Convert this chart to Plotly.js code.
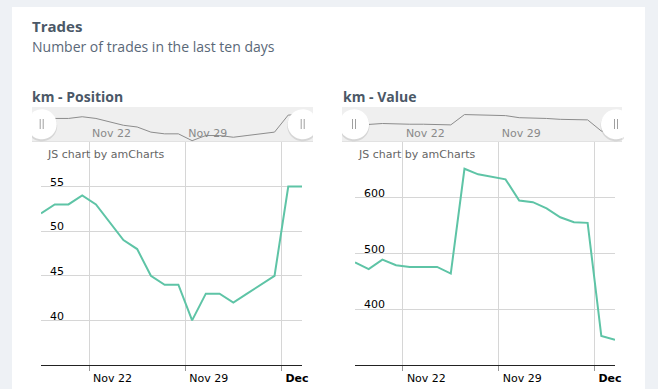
<!DOCTYPE html>
<html>
<head>
<meta charset="utf-8">
<script src="https://cdn.plot.ly/plotly-3.0.1.min.js"></script>
<style>
html,body{margin:0;padding:0;background:#eef1f5;}
#chart{width:658px;height:389px;}
</style>
</head>
<body>
<div id="chart"></div>
<script>
// ---- data ----
const dates = ['2020-11-18 12:00','2020-11-19 12:00','2020-11-20 12:00','2020-11-21 12:00','2020-11-22 12:00',
  '2020-11-23 12:00','2020-11-24 12:00','2020-11-25 12:00','2020-11-26 12:00','2020-11-27 12:00',
  '2020-11-28 12:00','2020-11-29 12:00','2020-11-30 12:00','2020-12-01 12:00','2020-12-02 12:00',
  '2020-12-03 12:00','2020-12-04 12:00','2020-12-05 12:00','2020-12-06 12:00','2020-12-07 12:00'];
const positionValues = [52,53,53,54,53,51,49,48,45,44,44,40,43,43,42,43,44,45,55,55];
const valueValues = [484,472,489,479,476,476,476,464,652,642,638,633,595,592,581,565,556,555,352,345];
const tickDates = ['2020-11-22','2020-11-29','2020-12-06'];
const tickLabels = ['Nov 22','Nov 29','<b>Dec</b>'];
const positionTicks = [40,45,50,55];
const valueTicks = [400,500,600];
const titleText = 'Trades';
const subtitleText = 'Number of trades in the last ten days';
const chartTitles = ['km - Position','km - Value'];
const creditText = 'JS chart by amCharts';

// ---- geometry helpers ----
const W = 658, H = 389;
const px = x => x / W;
const py = y => 1 - y / H;

const lineColor = '#5ec4a6';
const gridColor = '#d6d6d6';
const tickFont = {family:'DejaVu Sans, Verdana, sans-serif', size:11, color:'#000'};

function mainX(domain){
  return {domain:domain, type:'date', range:[dates[0], dates[dates.length-1]],
    tickmode:'array', tickvals:tickDates, ticktext:tickLabels,
    showgrid:true, gridcolor:gridColor, gridwidth:1,
    ticks:'outside', ticklen:5, tickcolor:'#999',
    showline:true, linecolor:'#222', linewidth:1,
    ticklabelposition:'outside right', ticklabelshift:3, ticklabelstandoff:3,
    tickfont:tickFont, zeroline:false, fixedrange:true};
}
function mainY(domain, range, ticks){
  return {domain:domain, range:range, tickmode:'array', tickvals:ticks,
    showgrid:true, gridcolor:gridColor, gridwidth:1, zeroline:false,
    showline:false, ticks:'', ticklabelposition:'inside top', ticklabelstandoff:6, ticklabelshift:3,
    tickfont:tickFont, fixedrange:true};
}
function miniX(domain){
  return {domain:domain, type:'date', range:[dates[0], dates[dates.length-1]],
    tickmode:'array', tickvals:tickDates, ticktext:tickLabels,
    showgrid:false, ticks:'', showline:false, zeroline:false,
    ticklabelposition:'inside right', ticklabelshift:3,
    tickfont:{family:'DejaVu Sans, Verdana, sans-serif', size:11, color:'#8a8a8a'}, fixedrange:true};
}
function miniY(domain, range){
  return {domain:domain, range:range, showgrid:false, zeroline:false, showticklabels:false,
    ticks:'', showline:false, fixedrange:true};
}

const mainYDom = [py(365), py(142)];
const miniYDom = [py(145), py(107)];
const leftXDom = [px(41), px(302)];
const rightXDom = [px(355), px(615)];

const traces = [
  {x:dates, y:positionValues, xaxis:'x', yaxis:'y', type:'scatter', mode:'lines',
   line:{color:lineColor, width:2}, hoverinfo:'skip'},
  {x:dates, y:positionValues, xaxis:'x2', yaxis:'y2', type:'scatter', mode:'lines',
   line:{color:'#8c8c8c', width:1}, hoverinfo:'skip'},
  {x:dates, y:valueValues, xaxis:'x3', yaxis:'y3', type:'scatter', mode:'lines',
   line:{color:lineColor, width:2}, hoverinfo:'skip'},
  {x:dates, y:valueValues, xaxis:'x4', yaxis:'y4', type:'scatter', mode:'lines',
   line:{color:'#8c8c8c', width:1}, hoverinfo:'skip'}
];

function circlePath(cx, cy, r, xmin, xmax){
  let d = '';
  for(let a=0; a<=360; a+=8){
    const t = a*Math.PI/180;
    let x = cx + r*Math.cos(t);
    x = Math.max(xmin, Math.min(xmax, x));
    const y = cy + r*Math.sin(t);
    d += (a===0?'M':'L') + px(x).toFixed(5) + ',' + py(y).toFixed(5) + ' ';
  }
  return d + 'Z';
}
function handle(cx, cy, xmin, xmax){
  return [
    {type:'path', xref:'paper', yref:'paper', layer:'above', path:circlePath(cx, cy+1.5, 15.5, xmin, xmax),
     fillcolor:'rgba(0,0,0,0.10)', line:{width:0}},
    {type:'path', xref:'paper', yref:'paper', layer:'above', path:circlePath(cx, cy, 15, xmin, xmax),
     fillcolor:'#ffffff', line:{width:0}},
    {type:'line', xref:'paper', yref:'paper', layer:'above', x0:px(cx-1.5), x1:px(cx-1.5), y0:py(119), y1:py(129),
     line:{color:'#a0a0a0', width:1}},
    {type:'line', xref:'paper', yref:'paper', layer:'above', x0:px(cx+1.5), x1:px(cx+1.5), y0:py(119), y1:py(129),
     line:{color:'#a0a0a0', width:1}}
  ];
}
function band(x0, x1){
  return [
    {type:'rect', xref:'paper', yref:'paper', layer:'below', x0:px(x0), x1:px(x1), y0:py(142), y1:py(107),
     fillcolor:'#e2e2e2', line:{width:0}},
    {type:'rect', xref:'paper', yref:'paper', layer:'below', x0:px(x0), x1:px(x1), y0:py(141), y1:py(107),
     fillcolor:'#efefef', line:{width:0}}
  ];
}

const shapes = [
  {type:'rect', xref:'paper', yref:'paper', layer:'below', x0:px(12), x1:px(645), y0:py(395), y1:py(7),
   fillcolor:'#ffffff', line:{width:0}},
  ...band(32, 313), ...band(342, 622),
  ...handle(41.7, 124.3, 32, 313), ...handle(302.7, 124.3, 32, 313),
  ...handle(354, 124.3, 342, 624), ...handle(616, 124.3, 342, 624)
];

const annotations = [
  {text:'<b>'+titleText+'</b>', xref:'paper', yref:'paper', x:px(30), y:py(26), xanchor:'left', yanchor:'middle',
   showarrow:false, font:{family:'Open Sans, sans-serif', size:15, color:'#4b5867'}},
  {text:subtitleText, xref:'paper', yref:'paper', x:px(30), y:py(47), xanchor:'left', yanchor:'middle',
   showarrow:false, font:{family:'Open Sans, sans-serif', size:14, color:'#5a6878'}},
  {text:'<b>'+chartTitles[0]+'</b>', xref:'paper', yref:'paper', x:px(30), y:py(96), xanchor:'left', yanchor:'middle',
   showarrow:false, font:{family:'Open Sans, sans-serif', size:14, color:'#4b5867'}},
  {text:'<b>'+chartTitles[1]+'</b>', xref:'paper', yref:'paper', x:px(341), y:py(96), xanchor:'left', yanchor:'middle',
   showarrow:false, font:{family:'Open Sans, sans-serif', size:14, color:'#4b5867'}},
  {text:creditText, xref:'paper', yref:'paper', x:px(45), y:py(154), xanchor:'left', yanchor:'middle',
   showarrow:false, font:{family:'DejaVu Sans, Verdana, sans-serif', size:11, color:'#666'}},
  {text:creditText, xref:'paper', yref:'paper', x:px(356), y:py(154), xanchor:'left', yanchor:'middle',
   showarrow:false, font:{family:'DejaVu Sans, Verdana, sans-serif', size:11, color:'#666'}}
];

const layout = {
  width:W, height:H, margin:{l:0, r:0, t:0, b:0},
  paper_bgcolor:'#eef1f5', plot_bgcolor:'rgba(0,0,0,0)',
  showlegend:false,
  xaxis:mainX(leftXDom), yaxis:mainY(mainYDom, [35,60], positionTicks),
  xaxis2:miniX(leftXDom), yaxis2:miniY(miniYDom, [37.46,59.7]),
  xaxis3:mainX(rightXDom), yaxis3:mainY(mainYDom, [300,700], valueTicks),
  xaxis4:miniX(rightXDom), yaxis4:miniY(miniYDom, [97,790]),
  shapes:shapes, annotations:annotations
};
layout.yaxis.anchor='x'; layout.xaxis.anchor='y';
layout.xaxis2.anchor='y2'; layout.yaxis2.anchor='x2';
layout.xaxis3.anchor='y3'; layout.yaxis3.anchor='x3';
layout.xaxis4.anchor='y4'; layout.yaxis4.anchor='x4';

Plotly.newPlot('chart', traces, layout, {displayModeBar:false, staticPlot:true});
</script>
</body>
</html>
